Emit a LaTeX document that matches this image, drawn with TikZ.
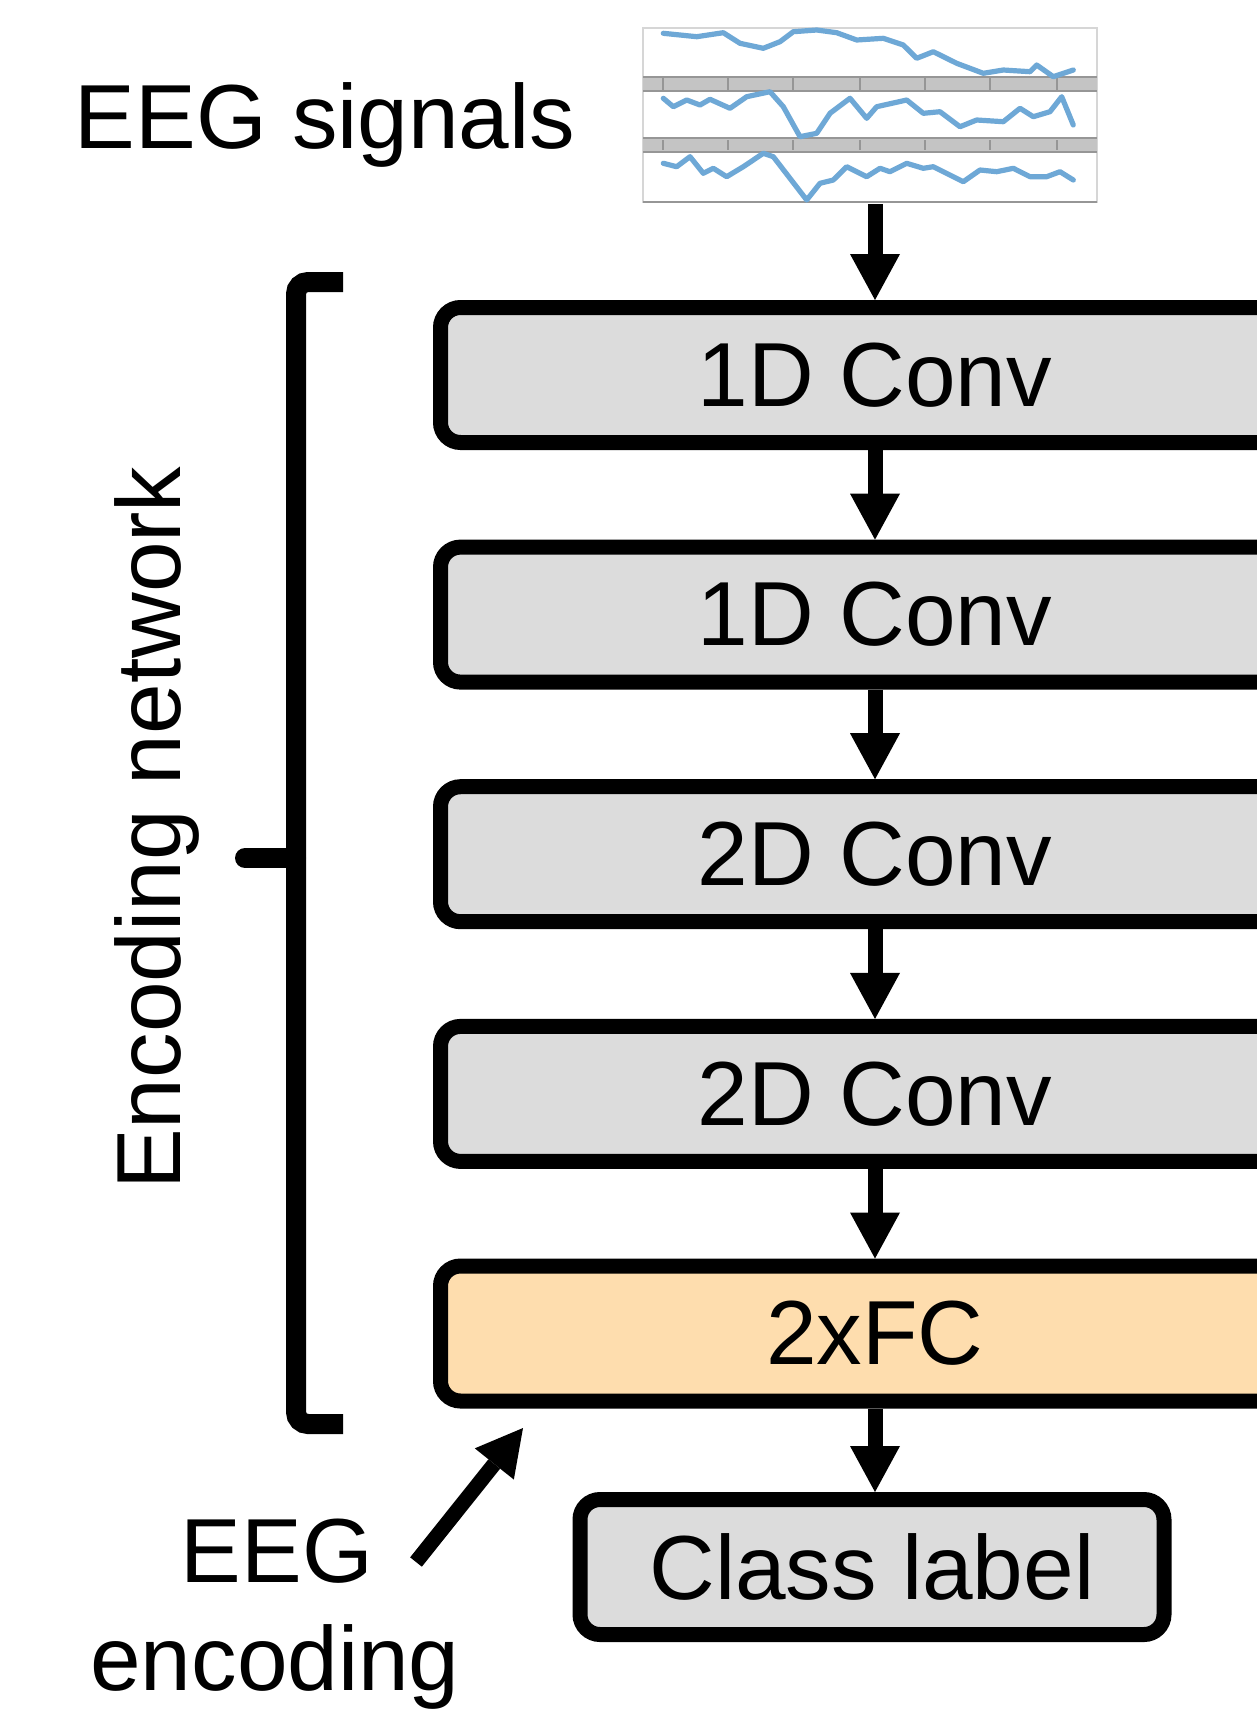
\documentclass[tikz,border=0pt]{standalone}
\usepackage{fontspec}
\setmainfont{Liberation Sans}
\usetikzlibrary{arrows.meta}
\definecolor{boxgray}{RGB}{220,220,220}
\definecolor{fcorange}{RGB}{254,221,174}
\definecolor{sigblue}{RGB}{110,168,214}
\definecolor{bandgray}{RGB}{196,196,196}
\definecolor{bandedge}{RGB}{150,150,150}
\definecolor{frameline}{RGB}{214,214,214}
\begin{document}
\begin{tikzpicture}[x=0.5pt,y=-0.5pt,
  txt/.style={font=\fontsize{45.5}{54}\selectfont},
  layer/.style={draw=black, line width=7.5pt, rounded corners=10pt, fill=boxgray,
    minimum width=434.5pt, minimum height=67.5pt, inner sep=0pt, txt},
  fclayer/.style={layer, fill=fcorange},
  flow/.style={line width=7.5pt, -{Triangle[width=25pt,length=23pt,line width=0pt]}},
  wave/.style={sigblue, line width=2.6pt, line join=round, line cap=round},
  band/.style={fill=bandgray},
  tick/.style={bandedge, line width=1pt},
]
\useasboundingbox (0,0) rectangle (1257,1709);
\clip (0,0) rectangle (1257,1709);
\fill[white] (0,0) rectangle (1257,1709);

% --- three stacked signal panels ---
\node[inner sep=0pt, minimum width=227pt, minimum height=87.5pt] (sig) at (870,116.5) {};
\draw[frameline, line width=1pt] (643,28) rectangle (1097,202);
\fill[band] (643,77) rectangle (1097,91);
\draw[bandedge, line width=1.2pt] (643,77) -- (1097,77) (643,91) -- (1097,91);
\fill[band] (643,137) rectangle (1097,153);
\draw[bandedge, line width=1.2pt] (643,138) -- (1097,138) (643,152) -- (1097,152);
\draw[bandedge, line width=1.4pt] (643,202) -- (1097,202);
\foreach \tx in {663,728,793,860,925,990,1057} {
  \draw[tick] (\tx,77) -- (\tx,91);
  \draw[tick] (\tx,140) -- (\tx,150);
}
\draw[wave] (663.3,33.3) -- (696.7,36.7) -- (723.3,32.7) -- (740,43.3) -- (763.3,48.3)
  -- (780,41.7) -- (793.3,31.7) -- (816.7,30) -- (836.7,32.7) -- (856.7,40) -- (883.3,38.3)
  -- (903.3,45) -- (916.7,58.3) -- (933.3,51.7) -- (956.7,63.3) -- (983.3,73.3)
  -- (1003.3,70) -- (1030,71.7) -- (1036.7,65) -- (1053.3,76.7) -- (1073.3,70);
\draw[wave] (663.3,98.3) -- (673.3,106.7) -- (686.7,100) -- (700,105) -- (710,99.3)
  -- (730,108.3) -- (746.7,96.7) -- (770,91.7) -- (783.3,106.7) -- (800,136.7)
  -- (816.7,133.3) -- (830,113.3) -- (850,98.3) -- (866.7,118.3) -- (876.7,106.7)
  -- (906.7,100) -- (923.3,113.3) -- (940,111.7) -- (960,126.7) -- (976.7,120)
  -- (1003.3,121.7) -- (1020,108.3) -- (1033.3,116.7) -- (1050,111.7) -- (1061.7,96.7)
  -- (1073.3,125);
\draw[wave] (663.3,163.3) -- (676.7,166.7) -- (690,156.7) -- (703.3,173.3) -- (713.3,168.3)
  -- (726.7,176.7) -- (743.3,166.7) -- (763.3,153.3) -- (773.3,156.7) -- (806.7,200)
  -- (820,183.3) -- (833.3,180) -- (846.7,166.7) -- (866.7,176.7) -- (880,168.3)
  -- (890,171.7) -- (906.7,163.3) -- (923.3,168.3) -- (933.3,166.7) -- (963.3,181.7)
  -- (980,170) -- (996.7,171.7) -- (1013.3,168.3) -- (1030,176.7) -- (1046.7,176.7)
  -- (1060,171.7) -- (1073.3,180);

% --- labels ---
\node[txt, anchor=base, inner sep=0pt] (siglabel) at (325,148) {EEG signals};
\node[txt, anchor=base, inner sep=0pt, rotate=90] (netlabel) at (180,828) {Encoding network};
\node[txt, anchor=base, inner sep=0pt] (encA) at (277,1582) {EEG};
\node[txt, anchor=base, inner sep=0pt] (encB) at (275,1690) {encoding};

% --- network layers ---
\node[layer] (c1) at (875,375) {1D Conv};
\node[layer] (c2) at (875,614.6) {1D Conv};
\node[layer] (c3) at (875,854.2) {2D Conv};
\node[layer] (c4) at (875,1093.9) {2D Conv};
\node[fclayer] (fc) at (875,1333.5) {2xFC};
\node[layer, minimum width=292pt] (cls) at (872,1567) {Class label};

% --- data flow ---
\draw[flow] (sig.south -| c1.north) -- (c1.north);
\draw[flow] (c1.south) -- (c2.north);
\draw[flow] (c2.south) -- (c3.north);
\draw[flow] (c3.south) -- (c4.north);
\draw[flow] (c4.south) -- (fc.north);
\draw[flow] (fc.south) -- (fc.south |- cls.north);

% --- bracket spanning the encoder ---
\draw[line width=10pt, rounded corners=6pt] (343,282) -- (296,282) -- (296,1424) -- (343,1424);
\draw[line width=10pt, line cap=round] (296,858) -- (245,858);

% --- pointer to the encoding output ---
\coordinate (encTail) at (416,1562);
\coordinate (encTip) at (523,1428);
\draw[flow] (encTail) -- (encTip);
\end{tikzpicture}
\end{document}
